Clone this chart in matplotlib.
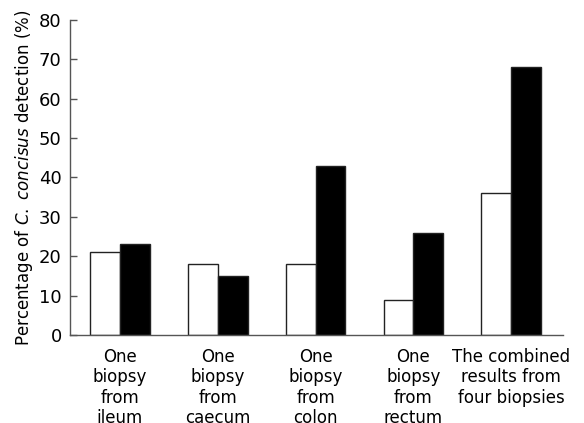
import numpy as np
import matplotlib.pyplot as plt

# data ---------------------------------------
categories = ['One\nbiopsy\nfrom\nileum', 'One\nbiopsy\nfrom\ncaecum',
              'One\nbiopsy\nfrom\ncolon', 'One\nbiopsy\nfrom\nrectum',
              'The combined\nresults from\nfour biopsies']
white_vals = [21, 18, 18, 9, 36]
black_vals = [23, 15, 43, 26, 68]
y_ticks = [0, 10, 20, 30, 40, 50, 60, 70, 80]

# plot ---------------------------------------
fig = plt.figure(figsize=(5.84, 4.23), dpi=100)
ax = fig.add_axes([0.12, 0.208, 0.844, 0.745])

x = np.arange(len(categories))
w = 0.305
ax.bar(x - w / 2, white_vals, w, color='white', edgecolor='#222222', linewidth=1)
ax.bar(x + w / 2, black_vals, w, color='black', edgecolor='#222222', linewidth=1)

ax.set_xlim(-0.51, 4.53)
ax.set_ylim(0, 80)
ax.set_yticks(y_ticks)
ax.set_xticks(x)
ax.set_xticklabels(categories, fontsize=12, linespacing=1.18)
ax.tick_params(axis='x', length=0, pad=9)
ax.tick_params(axis='y', direction='in', length=5, width=1, pad=6,
               labelsize=13, color='#555555')

for s in ['top', 'right']:
    ax.spines[s].set_visible(False)
for s in ['left', 'bottom']:
    ax.spines[s].set_color('#555555')
    ax.spines[s].set_linewidth(1)

ax.set_ylabel(r'Percentage of $\it{C.\ concisus}$ detection (%)', fontsize=12, labelpad=3)

plt.savefig('out.png', dpi=100)
